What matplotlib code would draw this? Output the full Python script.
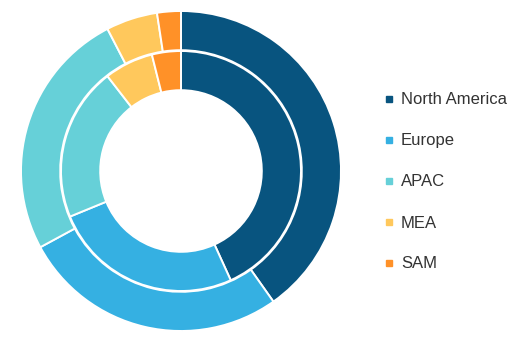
import matplotlib
matplotlib.use('Agg')
import matplotlib.pyplot as plt
from matplotlib.lines import Line2D

regions = ['North America', 'Europe', 'APAC', 'MEA', 'SAM']
outer_share = [40.2, 26.9, 25.3, 5.2, 2.4]
inner_share = [43.2, 25.6, 20.7, 6.6, 3.9]
colors = ['#08547f', '#35b0e2', '#66d0d8', '#ffc85c', '#ff9128']

W, H = 528, 350
fig = plt.figure(figsize=(W / 100, H / 100), dpi=100)

# pie centred at (181, 171) px from top-left, radius 160 px
cx, cy, r = 181, 171, 160
ax = fig.add_axes([(cx - r) / W, (H - cy - r) / H, 2 * r / W, 2 * r / H])
wprops = dict(edgecolor='white', linewidth=1.4)
ax.pie(outer_share, colors=colors, radius=1.0, startangle=90, counterclock=False,
       wedgeprops=dict(width=0.245, **wprops))
ax.pie(inner_share, colors=colors, radius=0.75, startangle=90, counterclock=False,
       wedgeprops=dict(width=0.245, **wprops))
ax.set_xlim(-1, 1)
ax.set_ylim(-1, 1)
ax.set_aspect('equal')
ax.axis('off')

handles = [Line2D([0], [0], marker='s', ls='None', markersize=4.5, color=c) for c in colors]
fig.legend(handles, regions, loc='center left', bbox_to_anchor=(383.5 / W, 1 - 182 / H),
           frameon=False, borderpad=0, borderaxespad=0,
           prop={'family': 'Liberation Sans', 'size': 12}, labelspacing=1.56,
           handlelength=0.6, handletextpad=0.45, labelcolor='#333333')

fig.savefig('out.png', dpi=100)
